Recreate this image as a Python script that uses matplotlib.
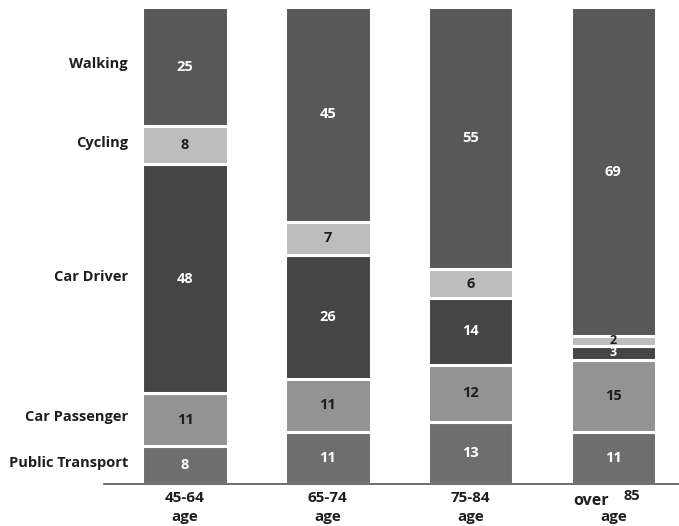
import numpy as np
import matplotlib.pyplot as plt
from matplotlib.transforms import blended_transform_factory

# Data (percent of trips by mode, per age group)
groups = ["45-64", "65-74", "75-84", "over 85"]
modes = ["Public Transport", "Car Passenger", "Car Driver", "Cycling", "Walking"]
public_transport = [8, 11, 13, 11]
car_passenger = [11, 11, 12, 15]
car_driver = [48, 26, 14, 3]
cycling = [8, 7, 6, 2]
walking = [25, 45, 55, 69]

series = [public_transport, car_passenger, car_driver, cycling, walking]
colors = ["#6e6e6e", "#939393", "#454545", "#bdbdbd", "#585858"]
text_colors = ["white", "#1e1e1e", "white", "#1e1e1e", "white"]

plt.rcParams["font.family"] = ["Open Sans", "DejaVu Sans"]

fig = plt.figure(figsize=(6.79, 5.26), dpi=100)
ax = fig.add_axes([104 / 679, 42 / 526, 575 / 679, 477 / 526])

x = np.arange(len(groups))
bottom = np.zeros(len(groups))
for vals, col, tcol in zip(series, colors, text_colors):
    vals = np.array(vals, dtype=float)
    ax.bar(x, vals, bottom=bottom, width=0.6, color=col,
           edgecolor="white", linewidth=2.2)
    for xi, b, v in zip(x, bottom, vals):
        fs = 10.5 if v >= 5 else 9
        ax.text(xi, b + v / 2, f"{int(v)}", ha="center", va="center",
                fontsize=fs, fontweight="bold", color=tcol)
    bottom += vals

# category labels on the left, at the first bar's segment centers
cum = 0
for name, vals in zip(modes, series):
    ax.text(-0.40, cum + vals[0] / 2 + 0.5, name, ha="right", va="center",
            fontsize=10.5, fontweight="bold", color="#1e1e1e", clip_on=False)
    cum += vals[0]

# x labels
trans = blended_transform_factory(ax.transData, ax.transAxes)
for xi, g in zip(x, groups):
    if g.startswith("over"):
        ax.text(xi - 0.03, -0.035, "over", ha="right", va="center",
                fontsize=11.5, fontweight="bold", color="#1e1e1e", transform=trans)
        ax.text(xi + 0.07, -0.025, "85", ha="left", va="center",
                fontsize=10.5, fontweight="bold", color="#1e1e1e", transform=trans)
    else:
        ax.text(xi, -0.03, g, ha="center", va="center",
                fontsize=11, fontweight="bold", color="#1e1e1e", transform=trans)
    ax.text(xi, -0.07, "age", ha="center", va="center",
            fontsize=11, fontweight="bold", color="#1e1e1e", transform=trans)

ax.set_xlim(-0.568, 3.46)
ax.set_ylim(0, 100)
for s in ["top", "right", "left"]:
    ax.spines[s].set_visible(False)
ax.spines["bottom"].set_color("#555555")
ax.spines["bottom"].set_linewidth(1.2)
ax.set_xticks([])
ax.set_yticks([])

fig.savefig("out.png", dpi=100)
